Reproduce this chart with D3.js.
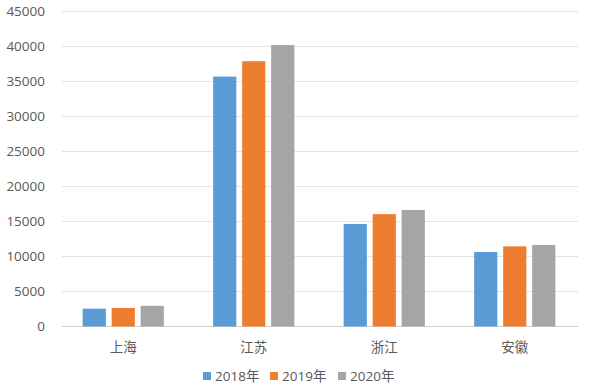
<!DOCTYPE html>
<html>
<head>
<meta charset="utf-8">
<script src="https://cdn.jsdelivr.net/npm/d3@7"></script>
<style>
body { margin: 0; background: #fff; }
text { font-family: "Open Sans", "Noto Sans CJK SC", sans-serif; fill: #595959; }
</style>
</head>
<body>
<svg></svg>
<script>
var provinces = ["上海", "江苏", "浙江", "安徽"]
var years = ["2018年", "2019年", "2020年"]
var v2018 = [2550, 35700, 14650, 10650]
var v2019 = [2650, 37900, 16050, 11450]
var v2020 = [2950, 40200, 16650, 11650]
var yTicks = [0, 5000, 10000, 15000, 20000, 25000, 30000, 35000, 40000, 45000]
var colors = ["#5B9BD5", "#ED7D31", "#A5A5A5"]

var series = [v2018, v2019, v2020]
var screen = {width: 597, height: 387}
var plot = {left: 58, right: 580, top: 11.5, bottom: 326.5}

var svg = d3.select("svg")
    .attr("width", screen.width)
    .attr("height", screen.height)

var xScale = d3.scaleBand()
    .domain(provinces)
    .range([plot.left, plot.right])

var inner = d3.scaleBand()
    .domain(years)
    .range([0, xScale.bandwidth()])
    .paddingInner(0.2)
    .paddingOuter(0.85)

var yScale = d3.scaleLinear()
    .domain([0, 45000])
    .range([plot.bottom, plot.top])

// gridlines
svg.append("g")
    .selectAll("line")
    .data(yTicks)
    .enter()
    .append("line")
    .attr("x1", plot.left + 4)
    .attr("x2", plot.right - 2)
    .attr("y1", function(d) { return yScale(d) })
    .attr("y2", function(d) { return yScale(d) })
    .attr("stroke", function(d) { return d == 0 ? "#d0d0d0" : "#e3e3e3" })
    .attr("stroke-width", 1.2)

var yAxis = d3.axisLeft(yScale)
    .tickValues(yTicks)
    .tickSize(0)
    .tickPadding(0)
    .tickFormat(d3.format("d"))

svg.append("g")
    .attr("transform", "translate(45,0)")
    .call(yAxis)
    .call(function(g) { g.select(".domain").remove() })
    .selectAll("text")
    .attr("font-size", "13.5px")
    .attr("font-family", "'Open Sans', sans-serif")
    .attr("fill", "#595959")

// bars
years.forEach(function(yr, j)
{
    svg.append("g")
    .selectAll("rect")
    .data(series[j])
    .enter()
    .append("rect")
    .attr("x", function(d, i) { return xScale(provinces[i]) + inner(yr) })
    .attr("width", inner.bandwidth())
    .attr("y", function(d) { return yScale(d) })
    .attr("height", function(d) { return yScale(0) - yScale(d) })
    .attr("fill", colors[j])
})

var xAxis = d3.axisBottom(xScale)
    .tickSize(0)
    .tickPadding(0)

svg.append("g")
    .attr("transform", "translate(0,342)")
    .call(xAxis)
    .call(function(g) { g.select(".domain").remove() })
    .selectAll("text")
    .attr("font-size", "13.5px")
    .attr("font-family", "'Noto Sans CJK SC', sans-serif")
    .attr("fill", "#595959")

// legend
var legendX = [203, 270, 338]
var legend = svg.append("g")
    .selectAll("g")
    .data(years)
    .enter()
    .append("g")
    .attr("transform", function(d, i) { return "translate(" + legendX[i] + ",376)" })

legend.append("rect")
    .attr("x", 0)
    .attr("y", -4)
    .attr("width", 8)
    .attr("height", 8)
    .attr("fill", function(d, i) { return colors[i] })

legend.append("text")
    .attr("x", 12)
    .attr("y", 0)
    .attr("dy", "0.35em")
    .attr("font-size", "13.5px")
    .text(function(d) { return d })
</script>
</body>
</html>
